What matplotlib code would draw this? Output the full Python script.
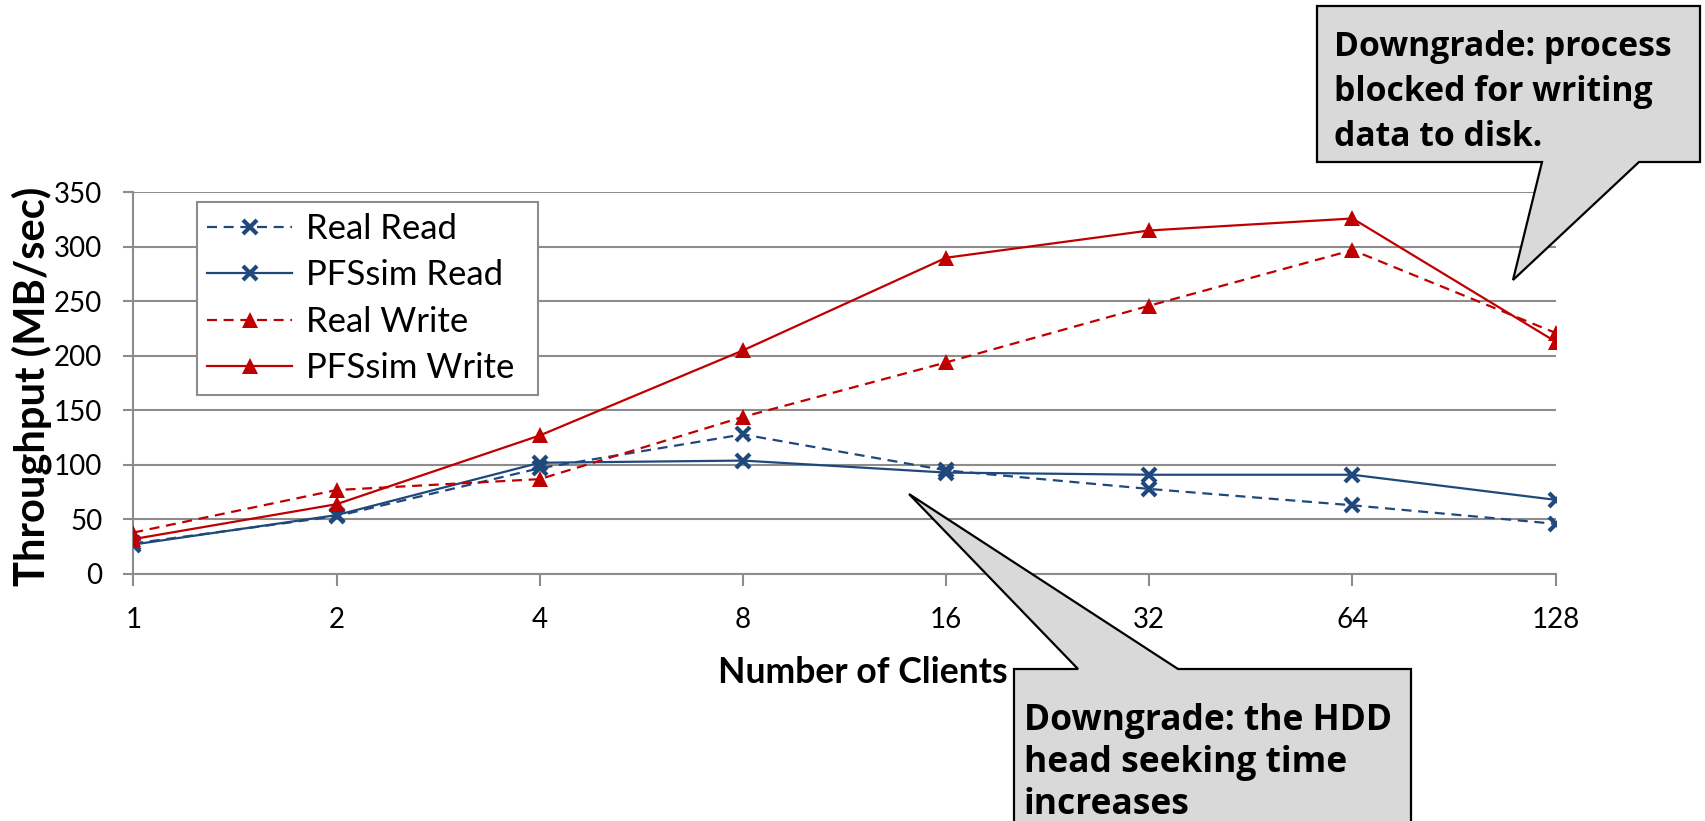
import matplotlib
matplotlib.use("Agg")
import matplotlib.pyplot as plt
from matplotlib.patches import Polygon
import numpy as np

_color_blue = "#1F497D"
_color_red = "#C00000"
_color_grid = "#8C8C8C"
_color_box = "#D9D9D9"

clients = ["1", "2", "4", "8", "16", "32", "64", "128"]
real_read = [28, 53, 97, 128, 95, 78, 63, 46]
pfssim_read = [27, 54, 102, 104, 93, 91, 91, 68]
real_write = [38, 77, 87, 144, 194, 246, 297, 221]
pfssim_write = [32, 64, 127, 205, 290, 315, 326, 213]
y_ticks = [0, 50, 100, 150, 200, 250, 300, 350]

note_write = ["Downgrade: process", "blocked for writing", "data to disk."]
note_read = ["Downgrade: the HDD", "head seeking time", "increases"]

plt.rcParams["font.family"] = ["Lato", "DejaVu Sans"]

W, H = 1706, 821


def fx(xp):
    return xp / W


def fy(yp):
    return 1 - yp / H


fig = plt.figure(figsize=(W / 100, H / 100), dpi=100)
ax = fig.add_axes([fx(133.3), fy(574), (1555.7 - 133.3) / W, (574 - 192.3) / H])

x = np.arange(len(clients))
_lw = 1.6
_dash = (0, (4.5, 3))

ax.plot(x, real_read, color=_color_blue, lw=_lw, ls=_dash, marker="x",
        markersize=10, markeredgewidth=3, label="Real Read", zorder=3)
ax.plot(x, pfssim_read, color=_color_blue, lw=_lw, ls="solid", marker="x",
        markersize=10, markeredgewidth=3, label="PFSsim Read", zorder=3)
ax.plot(x, real_write, color=_color_red, lw=_lw, ls=_dash, marker="^",
        markersize=11, markeredgewidth=0, label="Real Write", zorder=3)
ax.plot(x, pfssim_write, color=_color_red, lw=_lw, ls="solid", marker="^",
        markersize=11, markeredgewidth=0, label="PFSsim Write", zorder=3)

ax.set_xlim(0, len(clients) - 1)
ax.set_ylim(0, 350)
ax.set_xticks(x)
ax.set_xticklabels(clients)
ax.set_yticks(y_ticks)

ax.grid(which="major", axis="y", color=_color_grid, lw=1.5, zorder=1)
ax.set_axisbelow(True)
for s in ["top", "right"]:
    ax.spines[s].set_visible(False)
for s in ["left", "bottom"]:
    ax.spines[s].set_color(_color_grid)
    ax.spines[s].set_linewidth(1.5)
ax.tick_params(axis="y", length=7.2, width=1.5, color=_color_grid, pad=15, labelsize=20)
ax.tick_params(axis="x", length=8.4, width=1.5, color=_color_grid, pad=15, labelsize=20)

fig.text(fx(32), fy(386), "Throughput (MB/sec)", rotation=90, ha="center",
         va="center", fontsize=30, fontweight="bold")
fig.text(fx(863), fy(672), "Number of Clients", ha="center", va="center",
         fontsize=25.7, fontweight="bold")

_legend = ax.legend(
    loc="upper left",
    bbox_to_anchor=(fx(196.7), fy(386), (537.5 - 196.7) / W, (386 - 202.3) / H),
    bbox_transform=fig.transFigure,
    mode="expand",
    fontsize=25,
    handlelength=2.45,
    handletextpad=0.4,
    borderpad=0.3,
    labelspacing=0.42,
    borderaxespad=0,
    frameon=True,
    fancybox=False,
    edgecolor=_color_grid,
    facecolor="white",
    framealpha=1,
)
_legend.get_frame().set_linewidth(1.5)

# callout boxes (figure pixels, y from top)
_box1 = [(1317, 6), (1700, 6), (1700, 162), (1639, 162), (1513, 280),
         (1542, 162), (1317, 162)]
_box2 = [(1014, 669), (1078, 669), (909, 494), (1178, 669), (1411, 669),
         (1411, 830), (1014, 830)]
for verts in [_box1, _box2]:
    fig.add_artist(Polygon([(fx(a), fy(b)) for a, b in verts], closed=True,
                           transform=fig.transFigure, facecolor=_color_box,
                           edgecolor="black", lw=1.6, zorder=5))

for i, line in enumerate(note_write):
    fig.text(fx(1334), fy(56 + i * 45), line, fontsize=24.3, fontweight="bold",
             family=["Open Sans", "DejaVu Sans"], ha="left", va="baseline", zorder=6)
for i, line in enumerate(note_read):
    fig.text(fx(1024), fy(730 + i * 42), line, fontsize=25.5, fontweight="bold",
             family=["Open Sans", "DejaVu Sans"], ha="left", va="baseline", zorder=6)

fig.savefig("out.png", dpi=100)
